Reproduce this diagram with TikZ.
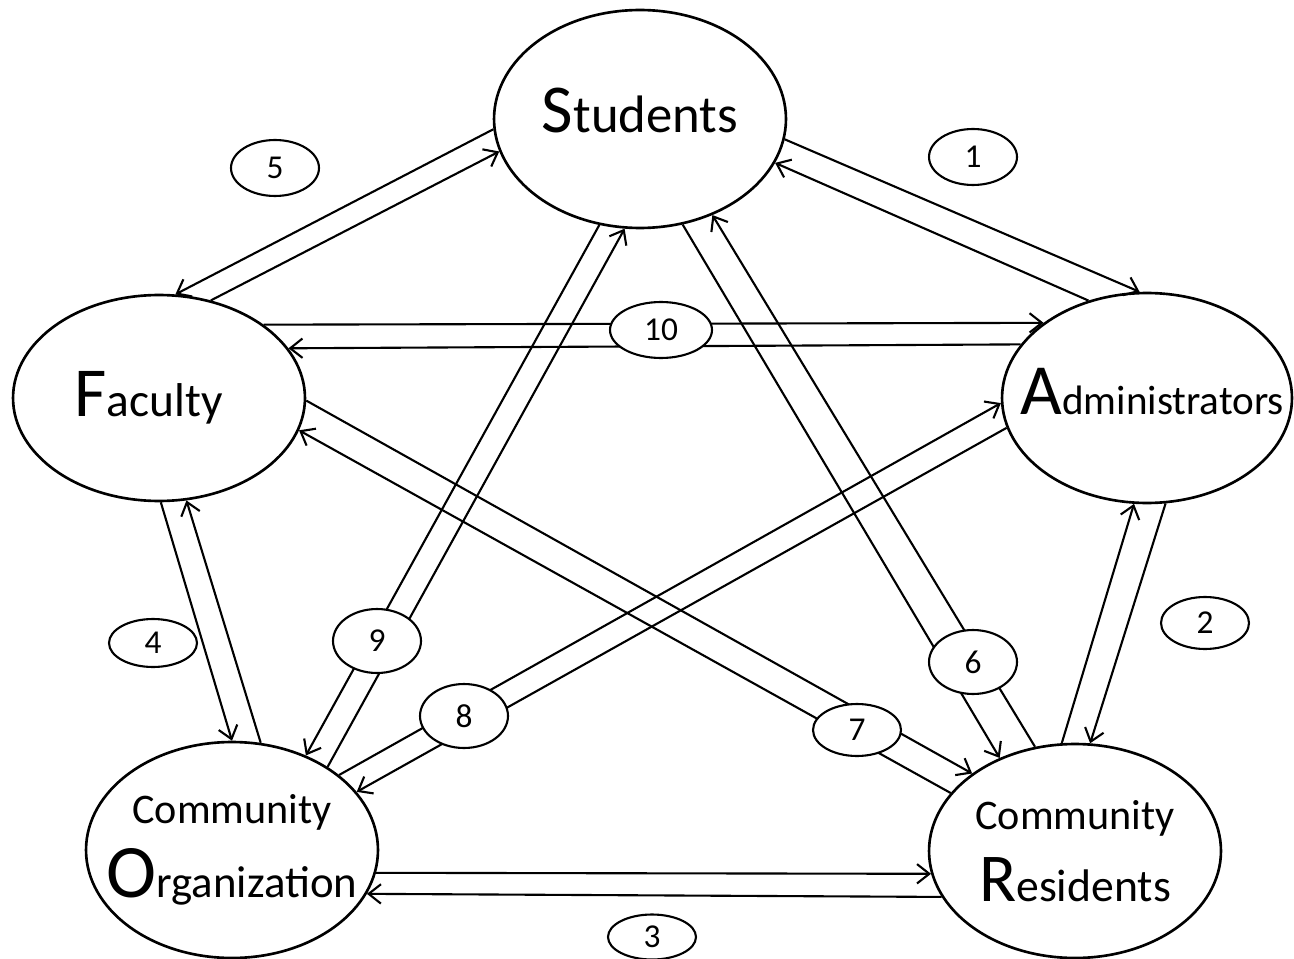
\documentclass[tikz,border=0pt]{standalone}
\usepackage{fontspec}
\setmainfont{Carlito}
\usetikzlibrary{shapes.geometric,arrows.meta}

\newcommand{\initial}[2]{{\fontsize{#1}{#1}\selectfont #2}}

\tikzset{
  party/.style={ellipse, draw, line width=1.5pt, inner sep=0pt, minimum width=5.84cm},
  num/.style={ellipse, draw, fill=white, line width=1.2pt, inner sep=0pt,
    minimum width=1.76cm, minimum height=1.04cm, font=\fontsize{19}{19}\selectfont},
  flow/.style={-{Straight Barb[length=7pt,width=11pt]}, line width=1.2pt},
}

\begin{document}
\begin{tikzpicture}[x=0.02cm, y=-0.02cm]
  \useasboundingbox (0,0) rectangle (1294,959);
  \node[party, minimum height=4.36cm, font=\fontsize{30}{30}\selectfont, text depth=10pt] (S) at (640,119) {\makebox[0pt]{\initial{39pt}{S}tudents}};
  \node[party, minimum height=4.12cm, font=\fontsize{27}{27}\selectfont] (F) at (159,398) {\makebox[0pt]{\hspace*{-12pt}\initial{40pt}{F}aculty}};
  \node[party, minimum width=5.8cm, minimum height=4.2cm, font=\fontsize{23.4}{23.4}\selectfont, text depth=8pt] (A) at (1147,398) {\makebox[0pt]{\hspace*{6pt}\initial{41pt}{A}dministrators}};
  \node[party, minimum height=4.32cm, align=center, font=\fontsize{24}{42}\selectfont] (O) at (232,850) {\makebox[0pt]{Community}\\\makebox[0pt]{\fontsize{25.5}{25.5}\selectfont\initial{43pt}{O}rganization}};
  \node[party, minimum height=4.28cm, align=center, font=\fontsize{24}{41}\selectfont] (R) at (1075,851) {\makebox[0pt]{Community}\\\makebox[0pt]{\fontsize{26}{26}\selectfont\initial{39pt}{R}esidents}};

  % 1
  \draw[flow] (S.-8.6) -- (A.94);
  \draw[flow] (A.121) -- (S.-18.4);
  % 2
  \draw[flow] (A.-80.7) -- (R.82.1);
  \draw[flow] (R.97.9) -- (A.-97.3);
  % 3
  \draw[flow] (O.-9) -- (R.-171.5);
  \draw[flow] (R.-161.7) -- (O.-18.4);
  % 4
  \draw[flow] (F.-89.5) -- (O.90);
  \draw[flow] (O.75.2) -- (F.-75.6);
  % 5
  \draw[flow] (S.-176.9) -- (F.81.4);
  \draw[flow] (F.62.8) -- (S.-167.3);
  % 6
  \draw[flow] (S.-68.3) -- (R.129.2);
  \draw[flow] (R.111) -- (S.-53.3);
  % 7
  \draw[flow] (F.-1.2) -- (R.143.6);
  \draw[flow] (R.155.9) -- (F.-13.3);
  % 8
  \draw[flow] (O.35.5) -- (A.-178.8);
  \draw[flow] (A.-168.8) -- (O.25.5);
  % 9
  \draw[flow] (S.-111.5) -- (O.52.6);
  \draw[flow] (O.41.8) -- (S.-98.9);
  % 10
  \draw[flow] (F.35.8) -- (A.144.2);
  \draw[flow] (A.157.7) -- (F.21.7);

  \node[num, minimum height=1.12cm] (n1) at (973,157) {1};
  \node[num] (n2) at (1205,623) {2};
  \node[num, minimum height=0.9cm] (n3) at (652,937) {3};
  \node[num, minimum height=0.96cm] (n4) at (153,643) {4};
  \node[num, minimum height=1.12cm] (n5) at (275,168) {5};
  \node[num, minimum height=1.28cm] (n6) at (973,662) {6};
  \node[num] (n7) at (857,730) {7};
  \node[num, minimum height=1.28cm] (n8) at (464,716) {8};
  \node[num, minimum height=1.28cm] (n9) at (377,641) {9};
  \node[num, minimum width=2.04cm, minimum height=1.12cm] (n10) at (661,330) {10};
\end{tikzpicture}
\end{document}
